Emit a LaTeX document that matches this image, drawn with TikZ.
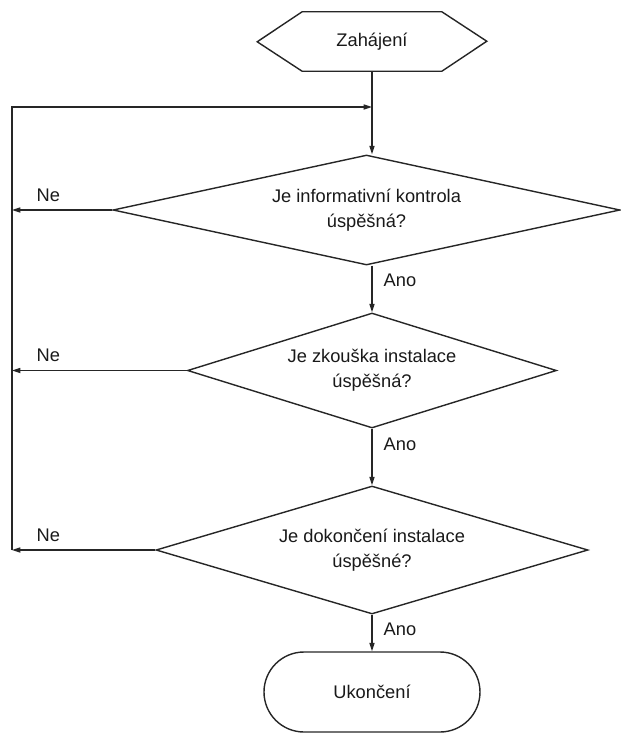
\documentclass[tikz,border=0pt]{standalone}
\usepackage{fontspec}
\setmainfont{Liberation Sans}
\usetikzlibrary{shapes.geometric,arrows.meta,positioning}

\begin{document}
\begin{tikzpicture}[
    every node/.style={font=\fontsize{13}{18}\selectfont, text=black!90},
    flow/.style={line width=1pt, draw=black!85},
    arr/.style={flow, -{Triangle[length=6pt,width=3.6pt]}},
    decision/.style={
        diamond,
        flow,
        inner sep=0pt,
        align=center,
        anchor=center,
    },
    terminal/.style={
        rectangle,
        flow,
        rounded corners=1cm,
        align=center,
        minimum width=5.4cm,
        minimum height=2.0cm,
    },
    lbl/.style={inner sep=0pt},
]

% Picture frame
\useasboundingbox (-9.3,0) rectangle (6.225,-18.375);

% Y positions
\def\yS{-1.0375}
\def\yL{-2.675}
\def\yA{-5.25}
\def\yB{-9.2625}
\def\yC{-13.75}
\def\yE{-17.3}

% Return line column
\def\xL{-9.0}

% --- Start ---
\node[inner sep=0pt, minimum width=3.475cm, minimum height=1.475cm] (start) at (0, \yS)
    {Zahájení};
\draw[flow] (start.north west) -- (start.north east) -- ++(1.125, -0.7375)
    -- (start.south east) -- (start.south west) -- ++(-1.125, 0.7375) -- cycle;

% --- Decisions ---
\node[decision, aspect=4.61, minimum width=12.675cm, minimum height=2.75cm] (D1) at (-0.1375, \yA)
    {Je informativní kontrola\\úspěšná?};
\node[decision, aspect=3.21, minimum width=9.225cm, minimum height=2.875cm] (D2) at (0, \yB)
    {Je zkouška instalace\\úspěšná?};
\node[decision, aspect=3.375, minimum width=10.8cm, minimum height=3.2cm] (D3) at (0, \yC)
    {Je dokončení instalace\\úspěšné?};

% --- End ---
\node[terminal] (stop) at (0, \yE) {Ukončení};

% Corner of the return line
\coordinate (L) at (\xL, \yL);

% Main flow
\draw[arr] (start.south) -- (start.south |- D1.north);
\draw[arr] (D1.south -| D2.north) -- (D2.north)
    node[lbl, pos=0, below right=0.19cm and 0.275cm] {Ano};
\draw[arr] (D2.south) -- (D3.north)
    node[lbl, pos=0, below right=0.22cm and 0.275cm] {Ano};
\draw[arr] (D3.south) -- (stop.north)
    node[lbl, pos=0, below right=0.19cm and 0.275cm] {Ano};

% "Ne" branches back to the top
\draw[arr] (D1.west) -- (D1.west -| L)
    node[lbl, pos=1, above right=0.2cm and 0.6cm] {Ne};
\draw[arr] (D2.west) -- (D2.west -| L)
    node[lbl, pos=1, above right=0.2cm and 0.6cm] {Ne};
\draw[arr] (D3.west) -- (D3.west -| L)
    node[lbl, pos=1, above right=0.2cm and 0.6cm] {Ne};
\draw[arr] (D3.west -| L) -- (L) -- (L -| start.south);

\end{tikzpicture}
\end{document}
